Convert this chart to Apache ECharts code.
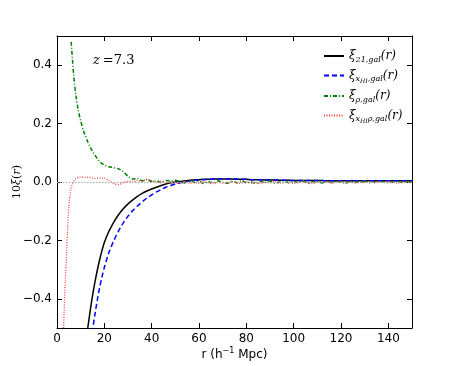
<!DOCTYPE html>
<html lang="en">
<head>
    <meta charset="UTF-8">
    <title>xi gal z=7.3</title>
    <script type="text/javascript" src="https://cdn.jsdelivr.net/npm/echarts@6/dist/echarts.min.js"></script>
    <style>
        body{margin:0;background:#fff;}
    </style>
</head>
<body>
<div id="chartmain" style="width:458px;height:366px"></div>
<script>
    // separation r (h^-1 Mpc)
    var r = [2,2.5,3,3.5,4,4.5,5,5.5,6,7,8,9,10,11,12,13,14,15,16,17,18,19,20,
        22,24,26,28,30,32,34,36,38,40,42,44,46,48,50,52,54,56,58,60,62,64,66,68,70,72,74,76,78,80,
        82,84,86,88,90,92,94,96,98,100,102,104,106,108,110,112,114,116,118,120,122,124,126,128,130,
        132,134,136,138,140,142,144,146,148,150];

    var xi21 = [null,null,null,null,null,null,null,null,null,null,null,null,null,null,
        -0.56,-0.50,-0.442,-0.390,-0.344,-0.303,-0.267,-0.235,-0.207,
        -0.168,-0.137,-0.112,-0.092,-0.075,-0.061,-0.049,-0.039,-0.031,-0.024,-0.018,-0.012,-0.007,-0.003,0.0,
        0.002,0.004,0.006,0.007,0.008,0.009,0.009,0.010,0.010,0.010,0.010,0.010,0.009,0.009,0.009,
        0.008,0.008,0.008,0.007,0.007,0.007,0.006,0.006,0.006,0.005,0.005,0.005,0.005,0.005,0.005,
        0.005,0.004,0.004,0.004,0.004,0.004,0.004,0.004,0.004,0.004,0.004,0.004,0.004,0.004,0.004,
        0.004,0.004,0.004,0.004,0.004];

    var xiHI = [null,null,null,null,null,null,null,null,null,null,null,null,null,null,null,null,
        -0.57,-0.51,-0.455,-0.405,-0.362,-0.325,-0.293,
        -0.240,-0.201,-0.168,-0.140,-0.117,-0.098,-0.082,-0.068,-0.055,-0.044,-0.034,-0.026,-0.018,-0.012,-0.007,
        -0.003,0.0,0.003,0.005,0.007,0.008,0.009,0.010,0.011,0.011,0.011,0.010,0.010,0.009,0.009,
        0.008,0.008,0.008,0.007,0.007,0.007,0.006,0.006,0.006,0.005,0.005,0.005,0.005,0.005,0.005,
        0.005,0.004,0.004,0.004,0.004,0.004,0.004,0.004,0.004,0.004,0.004,0.004,0.004,0.004,0.004,
        0.004,0.004,0.004,0.004,0.004];

    var xiRho = [null,null,null,null,null,null,null,null,
        0.48,0.37,0.295,0.245,0.21,0.18,0.158,0.138,0.12,0.105,0.092,0.08,0.07,0.063,0.058,
        0.052,0.049,0.045,0.035,0.02,0.01,0.012,0.004,0.008,
        0.002,0.004,-0.002,0.005,0.003,0.006,0.0,-0.003,0.004,-0.002,0.003,-0.005,0.001,-0.003,0.004,
        -0.001,-0.004,0.002,-0.002,0.005,-0.003,0.0,-0.005,0.002,-0.001,0.003,-0.004,0.0,0.002,-0.003,
        0.001,-0.002,0.004,-0.004,0.0,0.002,-0.003,0.001,-0.002,0.003,-0.001,-0.004,0.002,0.0,-0.002,
        0.003,-0.003,0.001,-0.001,0.002,-0.003,0.0,0.002,-0.002,0.001,-0.001];

    var xiHIRho = [null,-0.56,-0.45,-0.34,-0.25,-0.16,-0.085,-0.045,-0.02,
        0.002,0.012,0.016,0.017,0.017,0.016,0.016,0.015,0.013,0.012,0.013,0.014,0.012,0.013,
        0.004,-0.006,-0.009,-0.002,0.002,0.0,0.006,0.002,0.01,
        0.004,-0.002,0.003,-0.004,0.001,-0.003,-0.006,0.002,-0.004,-0.001,-0.005,0.002,-0.003,-0.006,
        0.0,-0.004,-0.002,0.001,-0.005,-0.003,0.002,-0.004,-0.001,-0.006,0.0,-0.003,0.002,-0.004,
        -0.002,0.001,-0.005,-0.002,0.002,-0.003,-0.006,0.0,-0.002,0.003,-0.004,-0.001,0.002,-0.003,
        0.0,-0.004,0.001,-0.002,0.003,-0.003,0.0,-0.002,0.002,-0.001,-0.004,0.001,-0.002,0.0];

    var xTicks = [0,20,40,60,80,100,120,140];
    var yTicks = [-0.4,-0.2,0,0.2,0.4];

    function pairs(vals){
        var out = [];
        for(var i=0;i<r.length;i++){
            if(vals[i]!==null) out.push([r[i], vals[i]]);
        }
        return out;
    }

    var serif = 'DejaVu Serif';
    var legendRich = {
        m:{fontFamily:serif,fontStyle:'italic',fontSize:12,color:'#000'},
        s:{fontFamily:serif,fontStyle:'italic',fontSize:8,color:'#000',padding:[7,0,0,0]},
        ss:{fontFamily:serif,fontStyle:'italic',fontSize:6,color:'#000',padding:[11,0,0,0]}
    };
    var legendNames = {
        'xi21':'{m|ξ}{s|21,gal}{m|(r)}',
        'xiHI':'{m|ξ}{s|x}{ss|HI}{s|,gal}{m|(r)}',
        'xiRho':'{m|ξ}{s|ρ,gal}{m|(r)}',
        'xiHIRho':'{m|ξ}{s|x}{ss|HI}{s|ρ,gal}{m|(r)}'
    };

    var tickStyle = {show:true, inside:true, length:5, lineStyle:{color:'#000',width:1}};

    var option = {
        backgroundColor:'#fff',
        animation:false,
        grid:{left:57,right:46,top:36,bottom:38,outerBoundsMode:'none',containLabel:false},
        legend:{
            orient:'vertical',
            left:318,
            top:45,
            itemWidth:20,
            itemHeight:14,
            itemGap:6,
            itemStyle:{opacity:0},
            data:['xi21','xiHI','xiRho','xiHIRho'],
            formatter:function(n){return legendNames[n];},
            textStyle:{rich:legendRich}
        },
        graphic:[{
            type:'text',
            left:93,
            top:54,
            style:{
                text:'{i|z}{n|=7.3}',
                rich:{
                    i:{fontFamily:serif,fontStyle:'italic',fontSize:13,fill:'#000',padding:[0,3,0,0]},
                    n:{fontFamily:serif,fontSize:13,fill:'#000'}
                }
            }
        }],
        xAxis:[{
            type:'value',
            min:0,max:150,
            name:'r (h{sup|−1} Mpc)',
            nameLocation:'middle',
            nameGap:19,
            nameMoveOverlap:false,
            nameTextStyle:{fontFamily:'DejaVu Sans',fontSize:12,color:'#000',
                rich:{sup:{fontFamily:'DejaVu Sans',fontSize:8,color:'#000',padding:[0,0,8,0]}}},
            axisLine:{show:true,onZero:false,lineStyle:{color:'#000',width:1}},
            axisTick:Object.assign({customValues:xTicks},tickStyle),
            axisLabel:{customValues:xTicks,color:'#000',fontFamily:'DejaVu Sans',fontSize:12,margin:5},
            splitLine:{show:false}
        },{
            type:'value',
            position:'top',
            min:0,max:150,
            axisLine:{show:true,onZero:false,lineStyle:{color:'#000',width:1}},
            axisTick:Object.assign({customValues:xTicks},tickStyle),
            axisLabel:{show:false},
            splitLine:{show:false}
        }],
        yAxis:[{
            type:'value',
            min:-0.5,max:0.5,
            name:'10{i|ξ}({i|r})',
            nameLocation:'middle',
            nameGap:34,
            nameRotate:90,
            nameMoveOverlap:false,
            nameTextStyle:{fontFamily:serif,fontSize:11,color:'#000',
                rich:{i:{fontFamily:serif,fontStyle:'italic',fontSize:11,color:'#000'}}},
            axisLine:{show:true,onZero:false,lineStyle:{color:'#000',width:1}},
            axisTick:Object.assign({customValues:yTicks},tickStyle),
            axisLabel:{customValues:yTicks,color:'#000',fontFamily:'DejaVu Sans',fontSize:12,margin:5,
                formatter:function(v){return v.toFixed(1).replace('-','−');}},
            splitLine:{show:false}
        },{
            type:'value',
            position:'right',
            min:-0.5,max:0.5,
            axisLine:{show:true,onZero:false,lineStyle:{color:'#000',width:1}},
            axisTick:Object.assign({customValues:yTicks},tickStyle),
            axisLabel:{show:false},
            splitLine:{show:false}
        }],
        series:[{
            name:'xi21',
            type:'line',
            symbol:'none',
            smooth:0.3,
            clip:true,
            data:pairs(xi21),
            lineStyle:{color:'#000',width:1.5,type:'solid'},
            itemStyle:{color:'#000'},
            markLine:{
                silent:true,
                symbol:'none',
                label:{show:false},
                lineStyle:{color:'#aaaaaa',type:[1.5,1.5],width:1.2},
                data:[{yAxis:0}]
            }
        },{
            name:'xiHI',
            type:'line',
            symbol:'none',
            smooth:0.3,
            clip:true,
            data:pairs(xiHI),
            lineStyle:{color:'#0000ff',width:1.5,type:[5,3]},
            itemStyle:{color:'#0000ff'}
        },{
            name:'xiRho',
            type:'line',
            symbol:'none',
            smooth:0.3,
            clip:true,
            data:pairs(xiRho),
            lineStyle:{color:'#008000',width:1.5,type:[4,2,1,2]},
            itemStyle:{color:'#008000'}
        },{
            name:'xiHIRho',
            type:'line',
            symbol:'none',
            smooth:0.3,
            clip:true,
            data:pairs(xiHIRho),
            lineStyle:{color:'#ff3333',width:1.2,type:[1,1.5]},
            itemStyle:{color:'#ff3333'}
        }]
    };

    var myChart=echarts.init(document.getElementById('chartmain'));
    myChart.setOption(option);
</script>
</body>
</html>
